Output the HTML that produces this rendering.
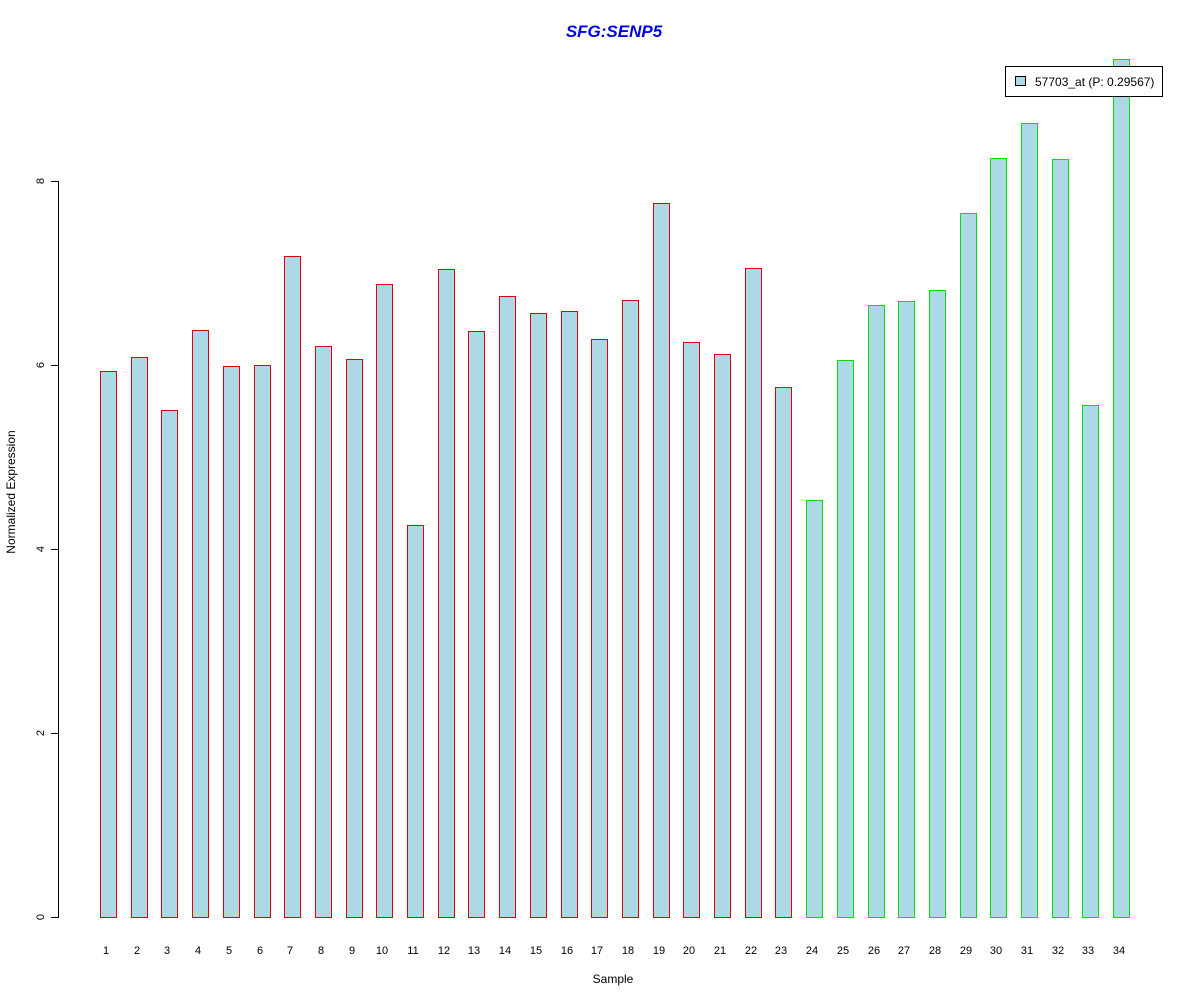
<!DOCTYPE html>
<html><head><meta charset="utf-8"><style>body{margin:0;background:#fff}svg{display:block}</style></head>
<body>
<svg id="s" width="1200" height="1000" xmlns="http://www.w3.org/2000/svg" font-family="Liberation Sans, sans-serif" shape-rendering="crispEdges">
<rect width="1200" height="1000" fill="#fff"/>
<text x="614" y="37" text-anchor="middle" font-size="17" font-weight="bold" font-style="italic" fill="#0000ee">SFG:SENP5</text>
<rect x="58" y="181" width="1" height="737" fill="#000"/>
<g id="yt"></g>
<text transform="translate(15,492) rotate(-90)" text-anchor="middle" font-size="12">Normalized Expression</text>
<text x="613" y="983" text-anchor="middle" font-size="12">Sample</text>
<g id="bars"></g>
<rect x="1005" y="66" width="158" height="31" fill="#000"/>
<rect x="1006" y="67" width="156" height="29" fill="#fff"/>
<rect x="1015" y="76" width="11" height="10" fill="#000"/>
<rect x="1016" y="77" width="9" height="8" fill="#add8e6"/>
<text x="1035" y="86" font-size="12">57703_at (P: 0.29567)</text>
</svg>
<script>
var ns="http://www.w3.org/2000/svg",s=document.getElementById('bars'),yt=document.getElementById('yt');
function el(p,t,a){var e=document.createElementNS(ns,t);for(var k in a)e.setAttribute(k,a[k]);p.appendChild(e);return e;}
for(var v=0;v<=8;v+=2){var y=917-92*v;el(yt,'rect',{x:51,y:y,width:7,height:1,fill:'#000'});
var t=el(yt,'text',{transform:'translate(44,'+y+') rotate(-90)','text-anchor':'middle','font-size':11});t.textContent=v;}
var tops=[371,357,410,330,366,365,256,346,359,284,525,269,331,296,313,311,339,300,203,342,354,268,387,500,360,305,301,290,213,158,123,159,405,59];
for(var i=0;i<34;i++){var x=Math.round(100+i*30.7),c=i<23?'#e00000':'#00e000';
el(s,'rect',{x:x,y:tops[i],width:17,height:918-tops[i],fill:c});
el(s,'rect',{x:x+1,y:tops[i]+1,width:15,height:916-tops[i],fill:'#add8e6'});
var t=el(s,'text',{x:x+6,y:954,'text-anchor':'middle','font-size':11});t.textContent=i+1;}
</script>
</body></html>
